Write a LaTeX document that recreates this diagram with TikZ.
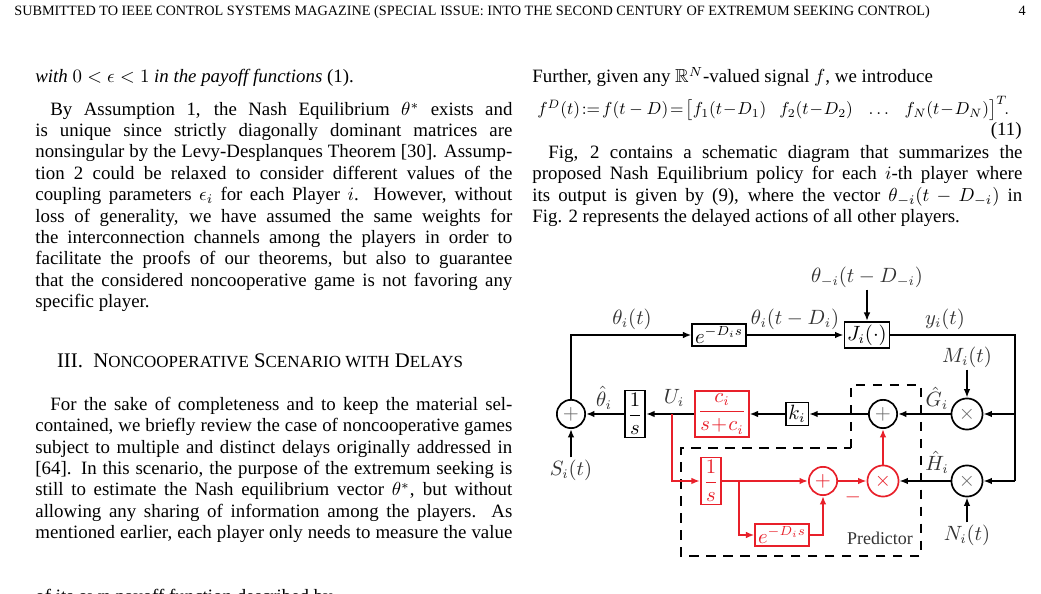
\documentclass[tikz,border=0pt]{standalone}
\usepackage{amsmath,amssymb}
\usepackage{fontspec}
\setmainfont{Liberation Serif}
\usetikzlibrary{arrows.meta}
\definecolor{red1}{HTML}{E8202A}
\definecolor{dg}{HTML}{333333}
\newcommand\jl[4]{\node[anchor=base west,inner sep=0pt] at (#1,#2) {\hbox to #3pt{#4}};}
\newcommand\nl[3]{\node[anchor=base west,inner sep=0pt] at (#1,#2) {#3};}
\newcommand\scx[1]{{\fontsize{9}{10}\selectfont #1}}
\begin{document}
\begin{tikzpicture}[x=0.53pt,y=-0.53pt,
  arr/.style={line width=0.9pt,-{Latex[length=4.5pt,width=3.5pt]}},
  rarr/.style={arr,draw=red1},
  blk/.style={draw,line width=0.9pt,inner sep=1.5pt,fill=white},
  rblk/.style={blk,draw=red1,text=red1},
  sumc/.style={circle,draw,line width=0.9pt,minimum size=15pt,inner sep=0pt,fill=white,text=gray!80!black},
  rsumc/.style={sumc,draw=red1,text=red1},
  lab/.style={inner sep=1pt,text=dg}]
\useasboundingbox (0,0) rectangle (1041,594);
\clip (0,0) rectangle (1041,594);
\fontsize{10}{11.3}\selectfont
% header
\node[anchor=base west,inner sep=0pt,font=\fontsize{7.55}{9}\selectfont] (hd) at (14,16) {SUBMITTED TO IEEE CONTROL SYSTEMS MAGAZINE (SPECIAL ISSUE: INTO THE SECOND CENTURY OF EXTREMUM SEEKING CONTROL)};
\node[anchor=base east,inner sep=0pt,font=\fontsize{7.55}{9}\selectfont] (pg) at (1026,16) {4};
% left column
\nl{35}{83}{\textit{with} $0<\epsilon<1$ \textit{in the payoff functions} (1).}
\jl{50}{116}{244.9}{By Assumption 1, the Nash Equilibrium $\theta^*$ exists and}
\jl{35}{137}{252.8}{is unique since strictly diagonally dominant matrices are}
\jl{35}{158}{252.8}{nonsingular by the Levy-Desplanques Theorem [30]. Assump-}
\jl{35}{180}{252.8}{tion 2 could be relaxed to consider different values of the}
\jl{35}{201}{252.8}{coupling parameters $\epsilon_i$ for each Player $i$. However, without}
\jl{35}{223}{252.8}{loss of generality, we have assumed the same weights for}
\jl{35}{244}{252.8}{the interconnection channels among the players in order to}
\jl{35}{265}{252.8}{facilitate the proofs of our theorems, but also to guarantee}
\jl{35}{287}{252.8}{that the considered noncooperative game is not favoring any}
\nl{35}{308}{specific player.}
\node[anchor=base,inner sep=0pt,font=\fontsize{11}{13}\selectfont] at (260,368) {III.\ \ N\scx{ONCOOPERATIVE} S\scx{CENARIO WITH} D\scx{ELAYS}};
\jl{50}{411}{244.9}{For the sake of completeness and to keep the material sel-}
\jl{35}{432}{252.8}{contained, we briefly review the case of noncooperative games}
\jl{35}{454}{252.8}{subject to multiple and distinct delays originally addressed in}
\jl{35}{475}{252.8}{[64]. In this scenario, the purpose of the extremum seeking is}
\jl{35}{496}{252.8}{still to estimate the Nash equilibrium vector $\theta^*$, but without}
\jl{35}{518}{252.8}{allowing any sharing of information among the players. As}
\jl{35}{539}{252.8}{mentioned earlier, each player only needs to measure the value}
\nl{35}{603}{of its own payoff function described by}
% right column
\nl{532}{83}{Further, given any $\mathbb{R}^N$-valued signal $f$, we introduce}
\node[anchor=base west,inner sep=0pt] at (537,115) {\resizebox{250pt}{!}{$f^D(t)\!:=\!f(t-D)\!=\!\big[f_1(t\!-\!D_1)\ \ \ f_2(t\!-\!D_2)\ \ \ \dots\ \ \ f_N(t\!-\!D_N)\big]^T\!.$}};
\node[anchor=base east,inner sep=0pt] at (1022,136) {(11)};
\jl{548}{159}{251.3}{Fig, 2 contains a schematic diagram that summarizes the}
\jl{532}{180}{259.7}{proposed Nash Equilibrium policy for each $i$-th player where}
\jl{532}{202}{259.7}{its output is given by (9), where the vector $\theta_{-i}(t-D_{-i})$ in}
\nl{532}{223}{Fig. 2 represents the delayed actions of all other players.}
% ---------- diagram
\begin{scope}[font=\fontsize{10.5}{12}\selectfont]
\draw[dashed,line width=0.7pt,dash pattern=on 5pt off 4pt] (851,448)--(851,385)--(921,385)--(921,556)--(681,556)--(681,448)--cycle;
\node[sumc] (s1) at (571,414) {$+$};
\node[blk] (del) at (719,335) {$e^{-D_is}$};
\node[blk] (J) at (867,335) {$J_i(\cdot)$};
\node[sumc,minimum size=16.5pt] (mG) at (967,414) {$\times$};
\node[sumc,minimum size=16.5pt] (mH) at (967,481) {$\times$};
\node[sumc] (sG) at (883,414) {$+$};
\node[blk] (k) at (797,414) {$k_i$};
\node[rblk] (filt) at (722,414) {$\dfrac{c_i}{s\!+\!c_i}$};
\node[blk] (int) at (635,414) {$\dfrac{1}{s}$};
\node[rblk] (int2) at (711,481) {$\dfrac{1}{s}$};
\node[rblk] (rd) at (782,535) {$e^{-D_is}$};
\node[rsumc] (rs) at (823,481) {$+$};
\node[rsumc,minimum size=16.5pt] (rm) at (883,481) {$\times$};
\coordinate (rH) at (1015,481);
\coordinate (rG) at (1015,414);
\coordinate (bU) at (672,414);
\coordinate (jn) at (739,481);
\node[lab] (thm) at (867,277) {$\theta_{-i}(t-D_{-i})$};
\node[lab] (Ml) at (967,357) {$M_i(t)$};
\node[lab] (Sl) at (571,470) {$S_i(t)$};
\node[lab] (Nl) at (967,535) {$N_i(t)$};
\node[lab] (l1) at (632,319) {$\theta_i(t)$};
\node[lab] (l2) at (795,319) {$\theta_i(t-D_i)$};
\node[lab] (l3) at (945,319) {$y_i(t)$};
\node[lab] (lG) at (937,398) {$\hat G_i$};
\node[lab] (lH) at (937,462) {$\hat H_i$};
\node[lab] (lU) at (674,398) {$U_i$};
\node[lab] (lt) at (604,398) {$\hat\theta_i$};
\node[inner sep=0pt,text=red1] (mn) at (853,497) {$-$};
\node[lab,font=\fontsize{9.5}{10}\selectfont] (pr) at (880,538) {Predictor};
\draw[arr] (s1.north) |- (del.west);
\draw[arr] (del) -- (J);
\draw[arr] (thm) -- (J);
\draw[line width=0.9pt] (J.east) -| (rH);
\draw[arr] (rG) -- (mG);
\draw[arr] (rH) -- (mH);
\draw[arr] (Ml) -- (mG);
\draw[arr] (mG) -- (sG);
\draw[arr] (sG) -- (k);
\draw[arr] (k) -- (filt);
\draw[arr] (filt) -- (int);
\draw[arr] (int) -- (s1);
\draw[arr] (Sl) -- (s1);
\draw[arr] (Nl) -- (mH);
\draw[arr] (mH) -- (rm);
\draw[rarr] (bU) |- (int2);
\draw[rarr] (int2) -- (rs);
\draw[rarr] (jn) |- (rd);
\draw[rarr] (rd) -| (rs);
\draw[rarr] (rs) -- (rm);
\draw[rarr] (rm) -- (sG);
\end{scope}
\end{tikzpicture}
\end{document}
